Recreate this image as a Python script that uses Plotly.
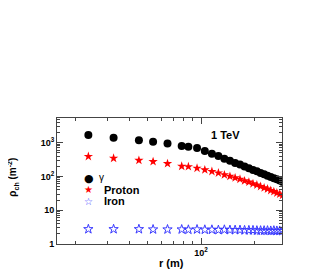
import plotly.graph_objects as go

# ---- data ----
r_m = [23.5, 32.5, 45, 54, 65, 78, 85, 95,
       105, 115, 125, 135, 145, 155, 165, 175, 185, 195,
       205, 215, 225, 235, 245, 255, 265, 275, 285]
gamma = [1690, 1400, 1170, 1070, 950, 800, 760, 700,
         570, 470, 400, 335, 292, 250, 224, 196, 176, 155,
         142, 127, 117, 105, 97, 89, 82, 76, 70]
proton = [390, 345, 300, 276, 240, 200, 195, 175,
          157, 140, 127, 112, 101, 91, 83, 74, 68, 61,
          56, 50.5, 46, 42.5, 38.5, 35.5, 32.5, 30, 27.5]
iron = [2.75, 2.75, 2.75, 2.7, 2.7, 2.7, 2.65, 2.7,
        2.65, 2.65, 2.6, 2.65, 2.6, 2.6, 2.6, 2.55, 2.55, 2.55,
        2.5, 2.5, 2.5, 2.5, 2.45, 2.5, 2.45, 2.45, 2.45]

x_ticks = [100]
x_ticktext = ["10<sup>2</sup>"]
x_minor = [20, 30, 40, 50, 60, 70, 80, 90, 200]
y_ticks = [1, 10, 100, 1000]
y_ticktext = ["1", "10", "10<sup>2</sup>", "10<sup>3</sup>"]
y_minor = [2, 3, 4, 5, 6, 7, 8, 9, 20, 30, 40, 50, 60, 70, 80, 90,
           200, 300, 400, 500, 600, 700, 800, 900, 2000, 3000, 4000, 5000]

FONT = "Liberation Sans"
AX = "#444444"

fig = go.Figure()
fig.add_trace(go.Scatter(x=r_m, y=gamma, mode="markers", name="γ",
                         marker=dict(symbol="circle", size=8, color="black")))
fig.add_trace(go.Scatter(x=r_m, y=proton, mode="markers", name="Proton",
                         marker=dict(symbol="star", size=7, color="red", line=dict(width=0))))
fig.add_trace(go.Scatter(x=r_m, y=iron, mode="markers", name="Iron",
                         marker=dict(symbol="star-open", size=7, color="#3a3aff",
                                     line=dict(width=1, color="#3a3aff"))))

axis_common = dict(showline=True, linecolor=AX, linewidth=1, mirror="ticks",
                   ticks="inside", tickcolor=AX, ticklen=6, showgrid=False,
                   zeroline=False,
                   tickfont=dict(family=FONT, size=9, color="black", weight="bold"))

fig.update_xaxes(type="log", range=[1.196, 2.452], tickmode="array",
                 tickvals=x_ticks, ticktext=x_ticktext,
                 minor=dict(tickmode="array", tickvals=x_minor, ticks="inside",
                            ticklen=3, tickcolor=AX, showgrid=False),
                 **axis_common)
fig.update_yaxes(type="log", range=[0, 3.73], tickmode="array",
                 tickvals=y_ticks, ticktext=y_ticktext,
                 minor=dict(tickmode="array", tickvals=y_minor, ticks="inside",
                            ticklen=3, tickcolor=AX, showgrid=False),
                 **axis_common)

ann_font = dict(family=FONT, size=11, color="black", weight="bold")


def ann(text, x, y, font, xanchor="center", **kw):
    return dict(text=text, x=x, y=y, xref="paper", yref="paper", showarrow=False,
                xanchor=xanchor, yanchor="middle", font=font, **kw)


annotations = [
    ann("1 TeV", 0.751, 0.865, ann_font),
    ann("r (m)", 0.511, -0.151, ann_font),
    ann("ρ<sub>ch</sub> (m<sup>-2</sup>)", -0.198, 0.53,
        dict(family=FONT, size=10, color="black", weight="bold"), textangle=-90),
    # legend
    ann("●", 0.142, 0.516, dict(family="DejaVu Sans", size=11, color="black")),
    ann("★", 0.142, 0.429, dict(family="DejaVu Sans", size=10, color="red")),
    ann("☆", 0.142, 0.341, dict(family="DejaVu Sans", size=10, color="#3a3aff")),
    ann("γ", 0.178, 0.524, dict(family=FONT, size=10, color="black"), xanchor="left"),
    ann("Proton", 0.198, 0.429, ann_font, xanchor="left"),
    ann("Iron", 0.198, 0.341, ann_font, xanchor="left"),
]

# the page body has an 8 px margin, so shift the plot box up/left by 8 px
fig.update_layout(width=327, height=273, showlegend=False,
                  margin=dict(l=49, r=53, t=110, b=37),
                  paper_bgcolor="white", plot_bgcolor="white",
                  annotations=annotations)

fig.write_html("out.html")
